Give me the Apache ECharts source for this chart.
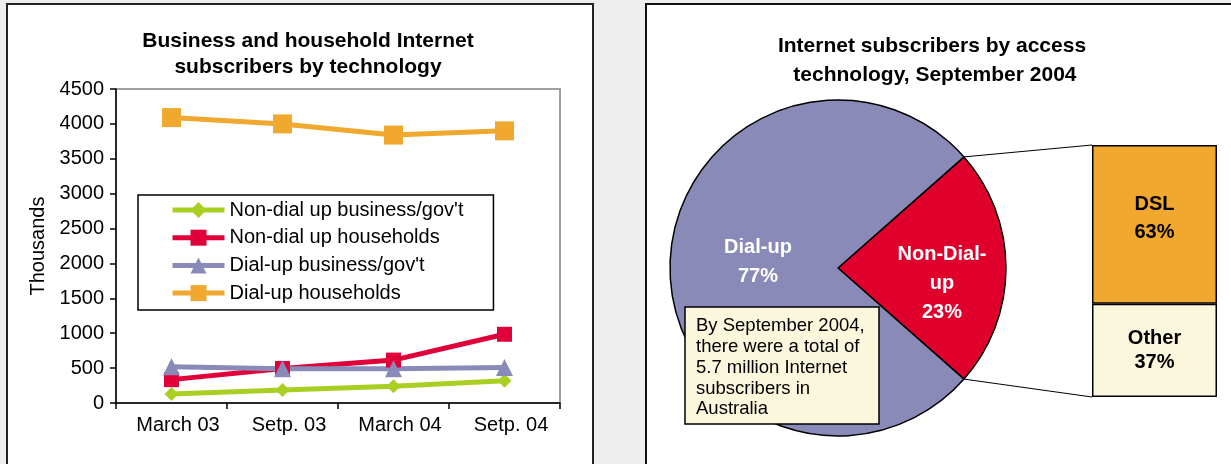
<!DOCTYPE html>
<html>
<head>
<meta charset="utf-8">
<script src="https://cdn.jsdelivr.net/npm/echarts@6/dist/echarts.min.js"></script>
<style>
  html, body { margin: 0; padding: 0; background: #eeeeee; }
  #main { width: 1231px; height: 464px; }
</style>
</head>
<body>
<div id="main"></div>
<script>
// ---- data ----
var periods = ['March 03', 'Setp. 03', 'March 04', 'Setp. 04'];
var nonDialBusiness = [130, 185, 240, 320];
var nonDialHouseholds = [335, 495, 615, 985];
var dialBusiness = [520, 490, 490, 510];
var dialHouseholds = [4090, 4000, 3840, 3900];

var pieNames = ['Non-Dial-up', 'Dial-up'];
var pieShares = [23, 77];
var splitNames = ['Other', 'DSL'];
var splitShares = [37, 63];

var noteLines = ['By September 2004,', 'there were a total of', '5.7 million Internet', 'subscribers in', 'Australia'];

// ---- layout ----
var font = 'Liberation Sans, Arial, sans-serif';
var pieC = [838, 268], pieR = 168;
var barBox = { left: 1092, top: 145, width: 125, height: 252 };
var half = pieShares[0] / 100 * 180;  // half angle of the non-dial slice
var rad = half * Math.PI / 180;
var slTop = [pieC[0] + pieR * Math.cos(rad), pieC[1] - pieR * Math.sin(rad)];
var slBot = [pieC[0] + pieR * Math.cos(rad), pieC[1] + pieR * Math.sin(rad)];

var chart = echarts.init(document.getElementById('main'));

function lineSeries(name, data, color, symbol, size) {
  return {
    name: name, type: 'line', data: data,
    xAxisIndex: 0, yAxisIndex: 0,
    symbol: symbol, symbolSize: size,
    lineStyle: { color: color, width: 5 },
    itemStyle: { color: color },
    z: 3
  };
}

var option = {
  backgroundColor: '#eeeeee',
  animation: false,
  textStyle: { fontFamily: font },
  title: [
    {
      text: 'Business and household Internet\nsubscribers by technology',
      left: 303, top: 23, textAlign: 'center',
      textStyle: { fontSize: 21, fontWeight: 'bold', color: '#000', lineHeight: 26, fontFamily: font }
    },
    {
      text: 'Internet subscribers by access\n technology, September 2004',
      left: 927, top: 27, textAlign: 'center',
      textStyle: { fontSize: 21, fontWeight: 'bold', color: '#000', lineHeight: 29, fontFamily: font }
    }
  ],
  legend: {
    data: ['Non-dial up business/gov\'t', 'Non-dial up households', 'Dial-up business/gov\'t', 'Dial-up households'],
    orient: 'vertical',
    left: 138, top: 195,
    padding: [5, 30, 7, 32],
    itemWidth: 52, itemHeight: 20, itemGap: 7.7,
    borderColor: '#000', borderWidth: 1.5,
    backgroundColor: '#fff',
    lineStyle: { width: 5 },
    textStyle: { fontSize: 20, color: '#000', fontFamily: font }
  },
  grid: [
    { left: 116, top: 89, width: 444, height: 314, show: true, borderColor: '#a0a0a0', borderWidth: 2, backgroundColor: '#fff' },
    { left: barBox.left, top: barBox.top, width: barBox.width, height: barBox.height }
  ],
  xAxis: [
    {
      gridIndex: 0, type: 'category', data: periods, boundaryGap: true,
      axisLine: { lineStyle: { color: '#000', width: 1.5 } },
      axisTick: { show: true, length: 6, lineStyle: { color: '#000', width: 1.5 } },
      axisLabel: { fontSize: 20, color: '#000', margin: 12, padding: [0, 0, 0, 13] },
      splitLine: { show: false }
    },
    { gridIndex: 1, type: 'category', data: ['Non-Dial-up'], show: false }
  ],
  yAxis: [
    {
      gridIndex: 0, type: 'value', min: 0, max: 4500, interval: 500,
      name: 'Thousands', nameLocation: 'middle', nameGap: 68,
      nameTextStyle: { fontSize: 20, color: '#000' },
      axisLine: { show: true, lineStyle: { color: '#000', width: 1.5 } },
      axisTick: { show: true, length: 6, lineStyle: { color: '#000', width: 1.5 } },
      axisLabel: { fontSize: 20, color: '#000', margin: 12, formatter: function (v) { return String(v); } },
      splitLine: { show: false }
    },
    { gridIndex: 1, type: 'value', min: 0, max: 100, show: false }
  ],
  series: [
    lineSeries('Non-dial up business/gov\'t', nonDialBusiness, '#a8cf22', 'diamond', 14),
    lineSeries('Non-dial up households', nonDialHouseholds, '#e0003a', 'rect', 15),
    lineSeries('Dial-up business/gov\'t', dialBusiness, '#8a8ab8', 'triangle', 17),
    lineSeries('Dial-up households', dialHouseholds, '#f0a82e', 'rect', 19),
    {
      type: 'pie',
      center: pieC, radius: pieR,
      startAngle: half, clockwise: true,
      silent: true,
      itemStyle: { borderColor: '#000', borderWidth: 1.5 },
      label: {
        show: true, position: 'inside', color: '#fff',
        fontSize: 20, fontWeight: 'bold', lineHeight: 29, fontFamily: font,
        formatter: function (p) { return p.name === 'Non-Dial-up' ? 'Non-Dial-\nup\n' + p.value + '%' : p.name + '\n' + p.value + '%'; }
      },
      labelLine: { show: false },
      data: [
        { name: pieNames[0], value: pieShares[0], itemStyle: { color: '#e0002c' }, label: { offset: [17, 15] } },
        { name: pieNames[1], value: pieShares[1], itemStyle: { color: '#8a8ab8' }, label: { offset: [7, -6] } }
      ]
    },
    {
      name: splitNames[0], type: 'bar', stack: 'split', xAxisIndex: 1, yAxisIndex: 1,
      barWidth: '100%', data: [splitShares[0]],
      itemStyle: { color: '#fbf7dc', borderColor: '#000', borderWidth: 1.5 },
      label: { show: true, position: 'inside', color: '#000', fontSize: 20, fontWeight: 'bold', lineHeight: 24, fontFamily: font,
        formatter: function (p) { return p.seriesName + '\n' + p.value + '%'; } }
    },
    {
      name: splitNames[1], type: 'bar', stack: 'split', xAxisIndex: 1, yAxisIndex: 1,
      barWidth: '100%', data: [splitShares[1]],
      itemStyle: { color: '#f0a82e', borderColor: '#000', borderWidth: 1.5 },
      label: { show: true, position: 'inside', color: '#000', fontSize: 20, fontWeight: 'bold', lineHeight: 28, fontFamily: font, offset: [0, -6],
        formatter: function (p) { return p.seriesName + '\n' + p.value + '%'; } }
    }
  ],
  graphic: [
    { type: 'rect', z: -10, shape: { x: 7, y: 4, width: 586, height: 470 }, style: { fill: '#fff', stroke: '#222', lineWidth: 2 } },
    { type: 'rect', z: -10, shape: { x: 646, y: 4, width: 600, height: 470 }, style: { fill: '#fff', stroke: '#111', lineWidth: 2 } },
    { type: 'line', z: 1, shape: { x1: slTop[0], y1: slTop[1], x2: barBox.left, y2: barBox.top }, style: { stroke: '#000', lineWidth: 1 } },
    { type: 'line', z: 1, shape: { x1: slBot[0], y1: slBot[1], x2: barBox.left, y2: barBox.top + barBox.height }, style: { stroke: '#000', lineWidth: 1 } },
    {
      type: 'group', z: 100, children: [
        { type: 'rect', z: 100, shape: { x: 685, y: 307, width: 194, height: 117 }, style: { fill: '#fbf7dc', stroke: '#000', lineWidth: 1.5 } },
        { type: 'text', z: 101, x: 696, y: 316, style: { text: noteLines.join('\n'), fontSize: 18.5, lineHeight: 20.7, fill: '#000', fontFamily: font } }
      ]
    }
  ]
};

chart.setOption(option);
</script>
</body>
</html>
